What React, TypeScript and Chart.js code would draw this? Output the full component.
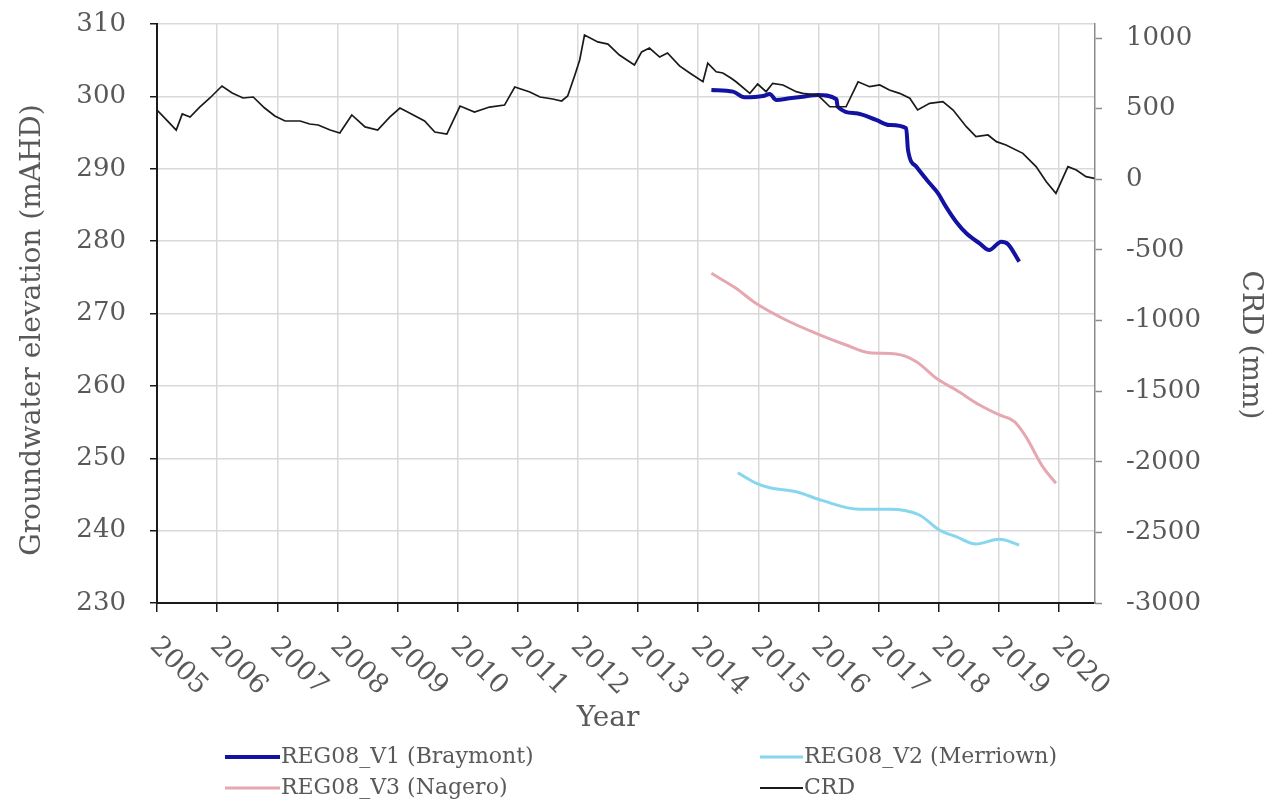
import React, { useEffect, useRef } from 'react';
import { Chart, registerables } from 'chart.js';

Chart.register(...registerables);

// Year ticks along the bottom axis
const yearTicks = [2005, 2006, 2007, 2008, 2009, 2010, 2011, 2012, 2013, 2014, 2015, 2016, 2017, 2018, 2019, 2020];

// Cumulative residual deviation from mean rainfall (mm), right axis
const crdYears = [
  2005.0, 2005.13, 2005.32, 2005.42, 2005.55, 2005.71, 2005.88, 2006.08, 2006.25, 2006.43,
  2006.6, 2006.79, 2006.96, 2007.13, 2007.38, 2007.54, 2007.68, 2007.88, 2008.04, 2008.24,
  2008.46, 2008.67, 2008.87, 2009.04, 2009.2, 2009.45, 2009.62, 2009.82, 2010.04, 2010.28,
  2010.53, 2010.78, 2010.95, 2011.2, 2011.37, 2011.58, 2011.73, 2011.83, 2011.95, 2012.03,
  2012.11, 2012.33, 2012.5, 2012.69, 2012.94, 2013.06, 2013.19, 2013.36, 2013.49, 2013.69,
  2013.86, 2014.08, 2014.16, 2014.3, 2014.41, 2014.55, 2014.63, 2014.86, 2014.99, 2015.13,
  2015.24, 2015.41, 2015.63, 2015.74, 2015.99, 2016.19, 2016.46, 2016.66, 2016.85, 2017.02,
  2017.18, 2017.35, 2017.52, 2017.65, 2017.85, 2018.07, 2018.24, 2018.46, 2018.62, 2018.82,
  2018.96, 2019.12, 2019.4, 2019.62, 2019.79, 2019.95, 2020.15, 2020.29, 2020.45, 2020.59,
];
const crdValues = [
  491, 434, 349, 463, 441, 512, 576, 661, 611, 576,
  583, 505, 449, 413, 413, 392, 385, 349, 328, 456,
  371, 349, 441, 505, 470, 413, 335, 321, 519, 477,
  512, 526, 654, 618, 583, 569, 555, 590, 739, 845,
  1022, 973, 958, 880, 810, 902, 930, 866, 895, 803,
  753, 691, 822, 762, 753, 716, 691, 609, 675, 621,
  680, 668, 621, 609, 597, 514, 514, 691, 656, 668,
  633, 609, 574, 491, 538, 550, 491, 373, 302, 314,
  267, 243, 184, 90, -17, -99, 90, 66, 19, 7,
];

// Groundwater elevation (mAHD), left axis
const braymontYears = [
  2014.22, 2014.58, 2014.77, 2015.08, 2015.19, 2015.3, 2015.52, 2015.74, 2015.99, 2016.3,
  2016.32, 2016.63, 2016.96, 2017.18, 2017.46, 2017.49, 2017.63, 2017.85, 2017.99, 2018.12,
  2018.29, 2018.46, 2018.68, 2018.84, 2019.04, 2019.15, 2019.34,
];
const braymontValues = [
  300.88, 300.65, 299.87, 300.05, 300.33, 299.5, 299.73, 299.96, 300.19, 299.6,
  298.57, 297.66, 296.74, 296.04, 295.59, 292.59, 290.28, 287.99, 286.61, 284.76,
  282.68, 281.08, 279.7, 278.77, 279.92, 279.6, 277.16,
];

const merriownYears = [
  2014.66, 2014.97, 2015.19, 2015.63, 2016.07, 2016.68, 2017.18, 2017.68, 2018.01, 2018.29,
  2018.62, 2019.01, 2019.34,
];
const merriownValues = [
  248.0, 246.54, 245.93, 245.38, 244.14, 242.95, 242.95, 242.16, 240.09, 239.16,
  238.15, 238.8, 238.01,
];

const nageroYears = [
  2014.22, 2014.63, 2014.96, 2015.46, 2015.96, 2016.46, 2016.85, 2017.29, 2017.63, 2017.96,
  2018.29, 2018.68, 2019.01, 2019.26, 2019.45, 2019.73, 2019.95,
];
const nageroValues = [
  275.55, 273.48, 271.41, 269.1, 267.26, 265.65, 264.58, 264.4, 263.34, 261.05,
  259.43, 257.36, 255.98, 255.05, 252.98, 248.84, 246.54,
];

const FONT = "'DejaVu Serif'";
const TEXT = '#595959';

const toPoints = (xs: number[], ys: number[]) => xs.map((x, i) => ({ x, y: ys[i] }));

const legendItems = [
  { label: 'REG08_V1 (Braymont)', color: '#1212a3', width: 4, col: 0, row: 0 },
  { label: 'REG08_V2 (Merriown)', color: '#86d6ee', width: 3, col: 1, row: 0 },
  { label: 'REG08_V3 (Nagero)', color: '#e6a8b0', width: 3, col: 0, row: 1 },
  { label: 'CRD', color: '#1a1a1a', width: 2, col: 1, row: 1 },
];

// Vertical axes: no extra room above/below for the end labels
const noLabelOverhang = (scale: any) => {
  scale.paddingTop = 0;
  scale.paddingBottom = 0;
};

// Draws the slanted year labels, axis titles and the two-column legend
const textPlugin = {
  id: 'textPlugin',
  afterDraw(chart: any) {
    const ctx = chart.ctx as CanvasRenderingContext2D;
    const xs = chart.scales.x;
    const area = chart.chartArea;
    ctx.save();
    ctx.fillStyle = TEXT;

    // Year labels rotated 45 degrees clockwise
    ctx.font = `27px ${FONT}`;
    ctx.textAlign = 'left';
    ctx.textBaseline = 'middle';
    for (const yr of yearTicks) {
      const px = xs.getPixelForValue(yr);
      ctx.save();
      ctx.translate(px - 3, area.bottom + 39);
      ctx.rotate(Math.PI / 4);
      ctx.fillText(String(yr), 0, 0);
      ctx.restore();
    }

    // Axis titles
    ctx.font = `28px ${FONT}`;
    ctx.textAlign = 'center';
    ctx.fillText('Year', (area.left + area.right) / 2 - 18, 719);

    ctx.save();
    ctx.translate(33, 330);
    ctx.rotate(-Math.PI / 2);
    ctx.fillText('Groundwater elevation (mAHD)', 0, 0);
    ctx.restore();

    ctx.save();
    ctx.translate(1250, 345);
    ctx.rotate(Math.PI / 2);
    ctx.fillText('CRD (mm)', 0, 0);
    ctx.restore();

    // Legend
    ctx.font = `22px ${FONT}`;
    ctx.textAlign = 'left';
    const colX = [
      { lineStart: 225, lineEnd: 280 },
      { lineStart: 760, lineEnd: 803 },
    ];
    const rowY = [757, 788];
    for (const item of legendItems) {
      const c = colX[item.col];
      const y = rowY[item.row];
      ctx.strokeStyle = item.color;
      ctx.lineWidth = item.width;
      ctx.beginPath();
      ctx.moveTo(c.lineStart, y);
      ctx.lineTo(c.lineEnd, y);
      ctx.stroke();
      ctx.fillText(item.label, c.lineEnd + 1, y);
    }
    ctx.restore();
  },
};

export default function App() {
  const canvasRef = useRef<HTMLCanvasElement | null>(null);

  useEffect(() => {
    if (!canvasRef.current) return;
    const chart = new Chart(canvasRef.current, {
      type: 'line',
      data: {
        datasets: [
          {
            label: 'CRD',
            data: toPoints(crdYears, crdValues),
            borderColor: '#1a1a1a',
            borderWidth: 1.7,
            yAxisID: 'y1',
            tension: 0,
            pointRadius: 0,
          },
          {
            label: 'REG08_V3 (Nagero)',
            data: toPoints(nageroYears, nageroValues),
            borderColor: '#e6a8b0',
            borderWidth: 3,
            yAxisID: 'y',
            cubicInterpolationMode: 'monotone',
            pointRadius: 0,
          },
          {
            label: 'REG08_V2 (Merriown)',
            data: toPoints(merriownYears, merriownValues),
            borderColor: '#86d6ee',
            borderWidth: 3,
            yAxisID: 'y',
            cubicInterpolationMode: 'monotone',
            pointRadius: 0,
          },
          {
            label: 'REG08_V1 (Braymont)',
            data: toPoints(braymontYears, braymontValues),
            borderColor: '#1212a3',
            borderWidth: 4,
            yAxisID: 'y',
            cubicInterpolationMode: 'monotone',
            pointRadius: 0,
          },
        ],
      },
      options: {
        animation: false,
        responsive: false,
        devicePixelRatio: 1,
        layout: { padding: { top: 24, left: 0, right: 0, bottom: 0 } },
        plugins: {
          legend: { display: false },
          tooltip: { enabled: false },
        },
        scales: {
          x: {
            type: 'linear',
            position: 'bottom',
            min: 2005,
            max: 2020.6,
            afterBuildTicks: (scale: any) => {
              scale.ticks = yearTicks.map((v) => ({ value: v }));
            },
            afterFit: (scale: any) => {
              scale.height = 205;
            },
            ticks: { display: false },
            grid: {
              color: '#d9d9d9',
              lineWidth: 1.5,
              drawTicks: true,
              tickLength: 9,
              tickColor: '#1a1a1a',
              tickWidth: 1.5,
            },
            border: { color: '#1a1a1a', width: 2 },
          },
          y: {
            type: 'linear',
            position: 'left',
            min: 230,
            max: 310,
            ticks: {
              stepSize: 10,
              color: TEXT,
              font: { family: FONT, size: 26 },
              padding: 24,
            },
            afterFit: (scale: any) => {
              scale.width = 157;
              noLabelOverhang(scale);
            },
            grid: {
              color: '#d9d9d9',
              lineWidth: 1.5,
              tickLength: 7,
              tickColor: '#1a1a1a',
              tickWidth: 1.5,
            },
            border: { color: '#1a1a1a', width: 2 },
          },
          y1: {
            type: 'linear',
            position: 'right',
            min: -3000,
            max: 1100,
            afterBuildTicks: (scale: any) => {
              const t = [];
              for (let v = -3000; v <= 1000; v += 500) t.push({ value: v });
              scale.ticks = t;
            },
            afterFit: (scale: any) => {
              scale.width = 181;
              noLabelOverhang(scale);
            },
            ticks: {
              color: TEXT,
              font: { family: FONT, size: 26 },
              padding: 24,
              callback: (v: any) => String(v),
            },
            grid: {
              drawOnChartArea: false,
              tickLength: 7,
              tickColor: '#8c8c8c',
              tickWidth: 1.5,
            },
            border: { color: '#8c8c8c', width: 1.5 },
          },
        },
      },
      plugins: [textPlugin],
    } as any);
    return () => chart.destroy();
  }, []);

  return (
    <div style={{ position: 'absolute', left: 0, top: 0, width: 1276, height: 808, background: '#ffffff' }}>
      <canvas ref={canvasRef} width={1276} height={808} />
    </div>
  );
}
